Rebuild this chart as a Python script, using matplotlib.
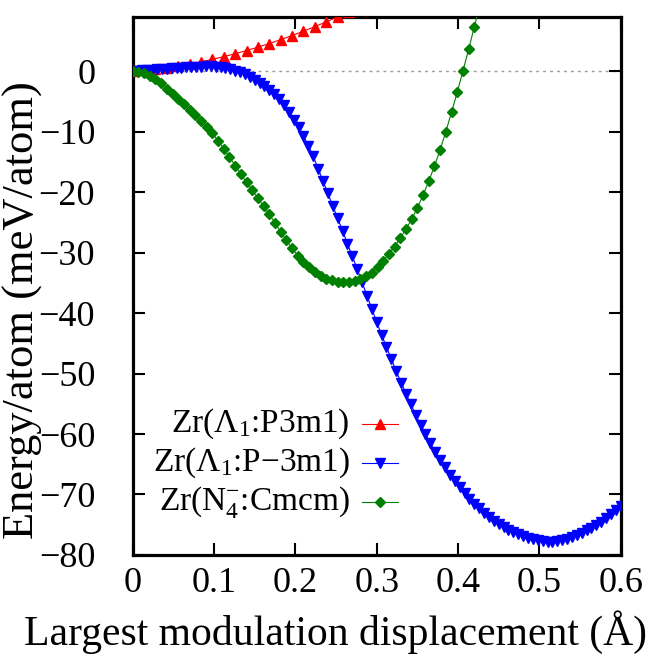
#!/usr/bin/env python3
"""
Frozen-phonon energy vs. largest modulation displacement for three Zr modes.
Output: out.png (652x656)
"""
import matplotlib
matplotlib.use("Agg")
import matplotlib.pyplot as plt

# ── data ──
red_x = [0.000, 0.014, 0.028, 0.042, 0.056, 0.070, 0.084, 0.098, 0.112, 0.126,
         0.140, 0.154, 0.168, 0.182, 0.196, 0.210, 0.224, 0.238, 0.252, 0.266]
red_e = [0.00, 0.16, 0.36, 0.60, 0.87, 1.19, 1.56, 1.96, 2.40, 2.89,
         3.41, 3.97, 4.57, 5.21, 5.89, 6.61, 7.37, 8.16, 8.99, 9.86]

blue_x = [0.000, 0.006, 0.012, 0.018, 0.024, 0.030, 0.036, 0.042, 0.048, 0.054,
          0.060, 0.066, 0.072, 0.078, 0.084, 0.090, 0.096, 0.102, 0.108, 0.114,
          0.120, 0.126, 0.132, 0.138, 0.144, 0.150, 0.156, 0.162, 0.168, 0.174,
          0.180, 0.186, 0.192, 0.198, 0.204, 0.210, 0.216, 0.222, 0.228, 0.234,
          0.240, 0.246, 0.252, 0.258, 0.264, 0.270, 0.276, 0.282, 0.288, 0.294,
          0.300, 0.306, 0.312, 0.318, 0.324, 0.330, 0.336, 0.342, 0.348, 0.354,
          0.360, 0.366, 0.372, 0.378, 0.384, 0.390, 0.396, 0.402, 0.408, 0.414,
          0.420, 0.426, 0.432, 0.438, 0.444, 0.450, 0.456, 0.462, 0.468, 0.474,
          0.480, 0.486, 0.492, 0.498, 0.504, 0.510, 0.516, 0.522, 0.528, 0.534,
          0.540, 0.546, 0.552, 0.558, 0.564, 0.570, 0.576, 0.582, 0.588, 0.594,
          0.600, 0.606]
blue_e = [0.00, 0.06, 0.12, 0.18, 0.24, 0.30, 0.36, 0.42, 0.48, 0.54,
          0.60, 0.65, 0.70, 0.74, 0.77, 0.79, 0.80, 0.73, 0.63, 0.51,
          0.32, 0.08, -0.20, -0.55, -0.95, -1.40, -1.90, -2.45, -3.10, -3.85,
          -4.65, -5.6, -6.7, -8.0, -9.3, -10.7, -12.3, -14.1, -16.1, -18.2,
          -20.2, -22.3, -24.3, -26.4, -28.5, -30.6, -32.7, -34.9, -37.1, -39.3,
          -41.5, -43.6, -45.6, -47.6, -49.6, -51.5, -53.3, -55.1, -56.8, -58.5,
          -60.0, -61.5, -62.9, -64.3, -65.5, -66.7, -67.8, -68.8, -69.8, -70.7,
          -71.5, -72.3, -73.0, -73.7, -74.3, -74.9, -75.4, -75.8, -76.2, -76.6,
          -76.9, -77.2, -77.4, -77.6, -77.7, -77.8, -77.8, -77.7, -77.6, -77.3,
          -77.0, -76.7, -76.3, -75.9, -75.5, -75.0, -74.5, -73.9, -73.3, -72.6,
          -71.9, -71.1]

green_x = [0.000, 0.007, 0.014, 0.021, 0.028, 0.035, 0.042, 0.049, 0.056, 0.063,
           0.070, 0.077, 0.084, 0.091, 0.098, 0.105, 0.112, 0.119, 0.126, 0.133,
           0.140, 0.147, 0.154, 0.161, 0.168, 0.175, 0.182, 0.189, 0.196, 0.203,
           0.210, 0.217, 0.224, 0.231, 0.238, 0.245, 0.252, 0.259, 0.266, 0.273,
           0.280, 0.287, 0.294, 0.301, 0.308, 0.315, 0.322, 0.329, 0.336, 0.343,
           0.350, 0.357, 0.364, 0.371, 0.378, 0.385, 0.392, 0.399, 0.406, 0.413,
           0.420, 0.427]
green_e = [0.00, -0.10, -0.35, -0.75, -1.30, -2.00, -2.90, -3.70, -4.60, -5.50,
           -6.40, -7.30, -8.20, -9.20, -10.3, -11.5, -12.8, -14.2, -15.6, -17.0,
           -18.4, -19.7, -21.0, -22.3, -23.7, -25.1, -26.6, -28.0, -29.3, -30.5,
           -31.5, -32.4, -33.2, -33.8, -34.3, -34.6, -34.8, -34.9, -34.9, -34.7,
           -34.4, -33.9, -33.3, -32.4, -31.4, -30.2, -29.0, -27.6, -26.1, -24.5,
           -22.6, -20.5, -18.2, -15.7, -13.0, -10.0, -6.8, -3.5, 0.0, 3.6,
           7.3, 11.1]

labels = ["Zr(Λ$_1$:P3m1)", "Zr(Λ$_1$:P\u22123m1)", "Zr(N$_4^{-}$:Cmcm)"]
colors = ["#ff0000", "#0000ff", "#008000"]
markers = ["^", "v", "D"]
msizes = [6.5, 7.0, 4.6]

x_ticks = [0, 0.1, 0.2, 0.3, 0.4, 0.5, 0.6]
x_ticklabels = ["0", "0.1", "0.2", "0.3", "0.4", "0.5", "0.6"]
y_ticks = [-80, -70, -60, -50, -40, -30, -20, -10, 0]


def main():
    plt.rcParams['font.family'] = ['Liberation Serif', 'DejaVu Serif']
    plt.rcParams['mathtext.fontset'] = 'custom'
    plt.rcParams['mathtext.rm'] = 'Liberation Serif'
    plt.rcParams['mathtext.it'] = 'Liberation Serif:italic'
    plt.rcParams['font.size'] = 25

    fig = plt.figure(figsize=(6.52, 6.56), dpi=100)
    ax = fig.add_axes([0.2035, 0.154, 0.7485, 0.8205])

    # zero reference
    ax.axhline(0, color='#999999', lw=1.0, ls=(0, (2, 3)), zorder=1)

    series = [(red_x, red_e), (blue_x, blue_e), (green_x, green_e)]
    for (xs, es), c, m, ms in zip(series, colors, markers, msizes):
        ax.plot(xs, es, color=c, lw=0.8, marker=m, ms=ms, mec=c, mfc=c,
                zorder=3)

    ax.set_xlim(0, 0.6)
    ax.set_ylim(-80, 9)
    ax.set_xticks(x_ticks)
    ax.set_xticklabels(x_ticklabels)
    ax.set_yticks(y_ticks)
    ax.tick_params(direction='in', length=8.5, width=1.5, top=True,
                   right=True, labelsize=26)
    ax.tick_params(axis='x', pad=9)
    ax.tick_params(axis='y', pad=27)
    for s in ax.spines.values():
        s.set_linewidth(2.3)

    # axis titles sit on the figure centre like gnuplot does
    ax.set_xlabel("Largest modulation displacement (Å)", fontsize=30)
    ax.xaxis.set_label_coords(0.415, -0.102)
    ax.set_ylabel("Energy/atom (meV/atom)", fontsize=32)
    ax.yaxis.set_label_coords(-0.184, 0.455)

    # gnuplot-style key: text right-aligned, sample on the right
    key_rows = [0.2434, 0.171, 0.0985]
    for lab, c, m, ms, yk in zip(labels, colors, markers, msizes, key_rows):
        ax.text(0.445, yk, lab, transform=ax.transAxes, ha='right',
                va='center', fontsize=24)
        ax.plot([0.470, 0.544], [yk, yk], color=c, lw=0.8,
                transform=ax.transAxes, clip_on=False)
        ax.plot([0.507], [yk], color=c, marker=m, ms=ms, mec=c,
                transform=ax.transAxes, clip_on=False)

    fig.savefig("out.png", dpi=100)


if __name__ == '__main__':
    main()
